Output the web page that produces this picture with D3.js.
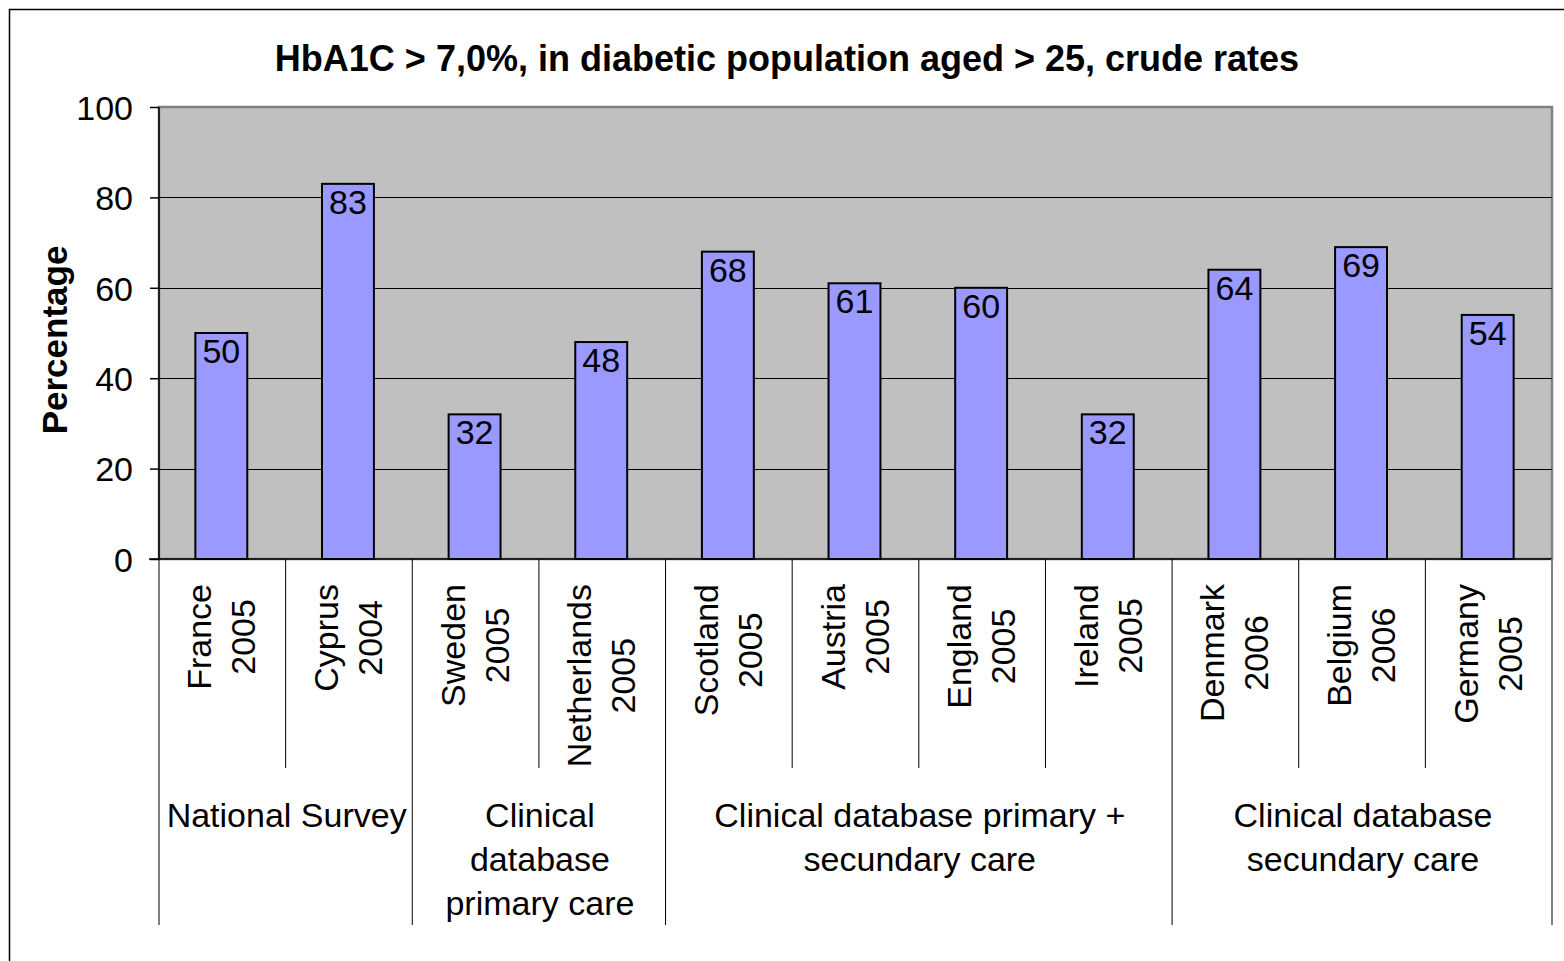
<!DOCTYPE html>
<html>
<head>
<meta charset="utf-8">
<script src="https://cdn.jsdelivr.net/npm/d3@7"></script>
<style>
  html, body { margin: 0; padding: 0; background: #fff; }
  svg { display: block; font-family: "Liberation Sans", Arial, sans-serif; }
</style>
</head>
<body>
<svg id="chart" width="1564" height="961"></svg>
<script>
// ---- data ----
const countries = ["France", "Cyprus", "Sweden", "Netherlands", "Scotland", "Austria", "England", "Ireland", "Denmark", "Belgium", "Germany"];
const years = ["2005", "2004", "2005", "2005", "2005", "2005", "2005", "2005", "2006", "2006", "2005"];
const values = [50, 83, 32, 48, 68, 61, 60, 32, 64, 69, 54];
const groupNames = [
  ["National Survey"],
  ["Clinical", "database", "primary care"],
  ["Clinical database primary +", "secundary care"],
  ["Clinical database", "secundary care"]
];
const groupSizes = [2, 2, 4, 3];
const yTicks = [0, 20, 40, 60, 80, 100];
const titleText = "HbA1C > 7,0%, in diabetic population aged > 25, crude rates";
const yAxisTitle = "Percentage";

(function () {
// ---- layout ----
const svg = d3.select("#chart");
const pL = 159, pR = 1552, pT = 107, pB = 559;
const fs = 34;

const x = d3.scaleBand().domain(d3.range(countries.length)).range([pL - 1, pR - 1]).paddingInner(0.59).paddingOuter(0.295);
const xc = d3.scaleBand().domain(d3.range(countries.length)).range([pL, pR]); // category slots
const y = d3.scaleLinear().domain([0, 100]).range([pB, pT]);

// outer frame
svg.append("rect").attr("x", 9.5).attr("y", 9.5).attr("width", 1600).attr("height", 1000)
  .attr("fill", "#fff").attr("stroke", "#000").attr("stroke-width", 1.5);

// plot area
svg.append("rect").attr("x", pL).attr("y", pT).attr("width", pR - pL).attr("height", pB - pT)
  .attr("fill", "#c0c0c0").attr("stroke", "#808080").attr("stroke-width", 2.5);

// gridlines
svg.append("g").selectAll("line").data(yTicks.filter(d => d > 0 && d < 100)).join("line")
  .attr("x1", pL).attr("x2", pR)
  .attr("y1", d => Math.round(y(d)) + 0.5).attr("y2", d => Math.round(y(d)) + 0.5)
  .attr("stroke", "#000").attr("stroke-width", 1);

// y axis
const yAxis = d3.axisLeft(y).tickValues(yTicks).tickSize(9).tickPadding(17).tickFormat(d3.format("d"));
const gy = svg.append("g").attr("transform", `translate(${pL},0)`).call(yAxis);
gy.select(".domain").remove();
gy.selectAll(".tick line").attr("stroke", "#000").attr("stroke-width", 1.5);
gy.selectAll(".tick text").attr("font-size", 34).attr("fill", "#000")
  .attr("font-family", "Liberation Sans, Arial, sans-serif").attr("dy", "0.36em");
svg.append("line").attr("x1", pL).attr("x2", pL).attr("y1", pT).attr("y2", pB)
  .attr("stroke", "#000").attr("stroke-width", 1.5);

// bars
svg.append("g").selectAll("rect").data(values).join("rect")
  .attr("x", (d, i) => x(i)).attr("width", x.bandwidth())
  .attr("y", d => y(d)).attr("height", d => y(0) - y(d))
  .attr("fill", "#9999ff").attr("stroke", "#000").attr("stroke-width", 2);

// bar labels
svg.append("g").selectAll("text").data(values).join("text")
  .attr("x", (d, i) => x(i) + x.bandwidth() / 2)
  .attr("y", d => y(d) + 30)
  .attr("text-anchor", "middle").attr("font-size", fs).attr("fill", "#000")
  .text(d => d);

// x axis line
svg.append("line").attr("x1", pL - 10).attr("x2", pR).attr("y1", pB).attr("y2", pB)
  .attr("stroke", "#000").attr("stroke-width", 1.5);

// category dividers and group dividers
const groupStarts = [0];
groupSizes.forEach((s, i) => groupStarts.push(groupStarts[i] + s));
const boundaries = d3.range(countries.length + 1);
svg.append("g").selectAll("line").data(boundaries).join("line")
  .attr("x1", i => i < countries.length ? xc(i) : pR)
  .attr("x2", i => i < countries.length ? xc(i) : pR)
  .attr("y1", pB)
  .attr("y2", i => groupStarts.includes(i) ? 925 : 768)
  .attr("stroke", i => i === countries.length ? "#808080" : "#000")
  .attr("stroke-width", i => i === countries.length ? 2 : 1);

// category labels (rotated)
const catG = svg.append("g");
countries.forEach((c, i) => {
  const cx = xc(i) + xc.bandwidth() / 2;
  const lines = [c, years[i]];
  const widths = lines.map(t => {
    const el = catG.append("text").attr("font-size", fs).text(t);
    const w = el.node().getComputedTextLength();
    el.remove();
    return w;
  });
  const cy = 584 + d3.max(widths) / 2;
  lines.forEach((t, j) => {
    const bx = cx - 11 + j * 44;
    catG.append("text")
      .attr("transform", `translate(${bx},${cy}) rotate(-90)`)
      .attr("text-anchor", "middle").attr("font-size", fs).attr("fill", "#000")
      .text(t);
  });
});

// group labels
const grpG = svg.append("g");
groupNames.forEach((lines, g) => {
  const x0 = xc(groupStarts[g]);
  const x1 = groupStarts[g + 1] < countries.length ? xc(groupStarts[g + 1]) : pR;
  lines.forEach((t, j) => {
    grpG.append("text").attr("x", (x0 + x1) / 2 + 1).attr("y", 827 + j * 44)
      .attr("text-anchor", "middle").attr("font-size", fs).attr("fill", "#000").text(t);
  });
});

// title
svg.append("text").attr("x", 787).attr("y", 71).attr("text-anchor", "middle")
  .attr("font-size", 36).attr("font-weight", "bold").attr("fill", "#000").text(titleText);

// y axis title
svg.append("text").attr("transform", `translate(67,340) rotate(-90)`).attr("text-anchor", "middle")
  .attr("font-size", 35).attr("font-weight", "bold").attr("fill", "#000").text(yAxisTitle);
})();
</script>
</body>
</html>
